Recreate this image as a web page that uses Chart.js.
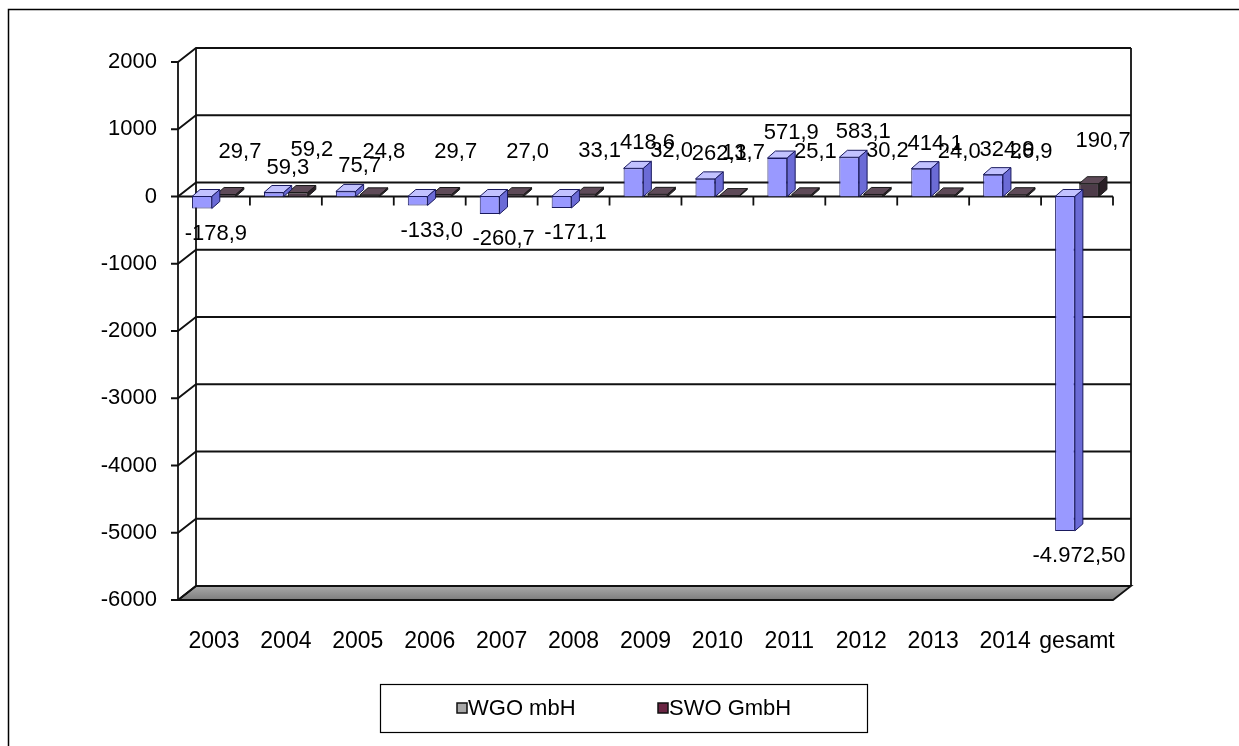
<!DOCTYPE html>
<html>
<head>
<meta charset="utf-8">
<script src="https://cdn.jsdelivr.net/npm/chart.js@4.4.0/dist/chart.umd.min.js"></script>
<style>
    html, body { margin: 0; padding: 0; background: #fff; }
</style>
</head>
<body>
<canvas id="ErgebnisChart" width="1239" height="746"></canvas>
<script>
//
// Daten
var jahre = ['2003', '2004', '2005', '2006', '2007', '2008', '2009', '2010', '2011', '2012', '2013', '2014', 'gesamt'];
var wgo_werte = [-178.9, 59.3, 75.7, -133.0, -260.7, -171.1, 418.6, 262.1, 571.9, 583.1, 414.1, 324.9, -4972.5];
var swo_werte = [29.7, 59.2, 24.8, 29.7, 27.0, 33.1, 32.0, 13.7, 25.1, 30.2, 24.0, 26.9, 190.7];
var wgo_stellen = [1, 1, 1, 1, 1, 1, 1, 1, 1, 1, 1, 1, 2];
var swo_stellen = [1, 1, 1, 1, 1, 1, 1, 1, 1, 1, 1, 1, 1];
var y_ticks = [-6000, -5000, -4000, -3000, -2000, -1000, 0, 1000, 2000];

var schrift = "'Liberation Sans', Arial, sans-serif";

//
// Zahl im deutschen Format
function fmt(v, d) {
    var s = Math.abs(v).toFixed(d).split('.');
    var ganz = s[0].replace(/\B(?=(\d{3})+(?!\d))/g, '.');
    return (v < 0 ? '-' : '') + ganz + (d ? ',' + s[1] : '');
}

//
// Waende, Boden, Achsen (3D-Optik)
var wand = {
    id: 'wand',
    beforeDatasetsDraw: function(chart) {
        var ctx = chart.ctx, a = chart.chartArea, ys = chart.scales.y, xs = chart.scales.x;
        var dx = 18, dy = -14;
        var oben = ys.getPixelForValue(ys.max), unten = ys.getPixelForValue(ys.min);
        ctx.save();
        ctx.strokeStyle = '#111';
        ctx.lineWidth = 1.8;

        // Boden
        var g = ctx.createLinearGradient(0, unten + dy, 0, unten);
        g.addColorStop(0, '#a9a9a9');
        g.addColorStop(1, '#7d7d7d');
        ctx.beginPath();
        ctx.moveTo(a.left, unten);
        ctx.lineTo(a.right, unten);
        ctx.lineTo(a.right + dx, unten + dy);
        ctx.lineTo(a.left + dx, unten + dy);
        ctx.closePath();
        ctx.fillStyle = g;
        ctx.fill();
        ctx.stroke();

        // Gitterlinien an der Rueckwand
        ys.ticks.forEach(function(t) {
            var py = ys.getPixelForValue(t.value);
            ctx.beginPath();
            ctx.moveTo(a.left - 7, py);
            ctx.lineTo(a.left, py);
            ctx.lineTo(a.left + dx, py + dy);
            ctx.lineTo(a.right + dx, py + dy);
            ctx.stroke();
        });

        // Kanten
        ctx.beginPath();
        ctx.moveTo(a.left, oben);
        ctx.lineTo(a.left, unten);
        ctx.moveTo(a.left + dx, oben + dy);
        ctx.lineTo(a.left + dx, unten + dy);
        ctx.moveTo(a.right + dx, oben + dy);
        ctx.lineTo(a.right + dx, unten + dy);
        ctx.stroke();

        // Nulllinie mit Teilstrichen
        var p0 = ys.getPixelForValue(0);
        ctx.beginPath();
        ctx.moveTo(a.left, p0);
        ctx.lineTo(a.right, p0);
        for (var i = 0; i < jahre.length; i++) {
            var px = xs.getPixelForValue(i + 0.5);
            ctx.moveTo(px, p0);
            ctx.lineTo(px, p0 + 9);
        }
        ctx.stroke();
        ctx.restore();
    }
};

//
// Saeulen mit Tiefe + Beschriftung
var flaechen = [
    { oben: '#c2c2ff', seite: '#6b6bd6', linie: '#1a1a5e', stellen: wgo_stellen, abstand: 12 },
    { oben: '#5e4a58', seite: '#2a1f26', linie: '#1a1a1a', stellen: swo_stellen, abstand: 30 }
];
var saeulen3d = {
    id: 'saeulen3d',
    afterDatasetDraw: function(chart, args) {
        var ctx = chart.ctx, f = flaechen[args.index];
        var ds = chart.data.datasets[args.index];
        var dx = 8, dy = -7;
        ctx.save();
        ctx.lineWidth = 1;
        ctx.strokeStyle = f.linie;
        args.meta.data.forEach(function(el, i) {
            var p = el.getProps(['x', 'y', 'base', 'width'], true);
            var l = p.x - p.width / 2, r = p.x + p.width / 2;
            var top = Math.min(p.y, p.base), bot = Math.max(p.y, p.base);
            // Deckflaeche
            ctx.beginPath();
            ctx.moveTo(l, top);
            ctx.lineTo(r, top);
            ctx.lineTo(r + dx, top + dy);
            ctx.lineTo(l + dx, top + dy);
            ctx.closePath();
            ctx.fillStyle = f.oben;
            ctx.fill();
            ctx.stroke();
            // Seitenflaeche
            ctx.beginPath();
            ctx.moveTo(r, top);
            ctx.lineTo(r + dx, top + dy);
            ctx.lineTo(r + dx, bot + dy);
            ctx.lineTo(r, bot);
            ctx.closePath();
            ctx.fillStyle = f.seite;
            ctx.fill();
            ctx.stroke();

            // Wert
            var v = ds.data[i];
            ctx.fillStyle = '#000';
            ctx.font = '22px ' + schrift;
            ctx.textAlign = 'center';
            if (v < 0) {
                ctx.textBaseline = 'top';
                ctx.fillText(fmt(v, f.stellen[i]), p.x + 14, bot + 14);
            } else {
                ctx.textBaseline = 'alphabetic';
                ctx.fillText(fmt(v, f.stellen[i]), p.x + 14, top + dy - f.abstand);
            }
        });
        ctx.restore();
    }
};

//
// Legende im Kasten + Rahmen
var legendeFarben = ['#a8a8a8', '#6a2543'];
var rahmen = {
    id: 'rahmen',
    afterDraw: function(chart) {
        var ctx = chart.ctx;
        ctx.save();
        ctx.strokeStyle = '#000';
        ctx.lineWidth = 1.5;
        ctx.beginPath();
        ctx.moveTo(8.5, 760);
        ctx.lineTo(8.5, 9.5);
        ctx.lineTo(1239, 9.5);
        ctx.stroke();

        // Legende
        ctx.lineWidth = 1.2;
        ctx.strokeRect(380.5, 684.5, 487, 48);
        ctx.font = '22px ' + schrift;
        ctx.textBaseline = 'middle';
        ctx.textAlign = 'left';
        var startX = [457, 658];
        chart.data.datasets.forEach(function(ds, i) {
            ctx.fillStyle = legendeFarben[i];
            ctx.fillRect(startX[i], 703, 10, 10);
            ctx.strokeStyle = '#111';
            ctx.lineWidth = 1.5;
            ctx.strokeRect(startX[i], 703, 10, 10);
            ctx.fillStyle = '#000';
            ctx.fillText(ds.label, startX[i] + 11, 709);
        });
        ctx.restore();
    }
};

var ctx = document.getElementById('ErgebnisChart').getContext('2d');
new Chart(ctx, {
    type: 'bar',
    data: {
        labels: jahre,
        datasets: [{
            label: 'WGO mbH',
            data: wgo_werte,
            backgroundColor: '#9999ff',
            borderColor: '#1a1a5e',
            borderWidth: 1
        }, {
            label: 'SWO GmbH',
            data: swo_werte,
            backgroundColor: '#4d3b49',
            borderColor: '#1a1a1a',
            borderWidth: 1
        }]
    },
    options: {
        responsive: false,
        animation: false,
        categoryPercentage: 0.67,
        barPercentage: 0.82,
        layout: {
            padding: { left: 8, top: 62, right: 126, bottom: 76 }
        },
        scales: {
            x: {
                grid: { display: false },
                border: { display: false },
                ticks: {
                    color: '#000',
                    padding: 20,
                    maxRotation: 0,
                    autoSkip: false,
                    font: { family: schrift, size: 23 }
                },
                afterFit: function(s) { s.height = 70; }
            },
            y: {
                min: y_ticks[0],
                max: y_ticks[y_ticks.length - 1],
                grid: { display: false },
                border: { display: false },
                afterBuildTicks: function(s) {
                    s.ticks = y_ticks.map(function(v) { return { value: v }; });
                },
                ticks: {
                    color: '#000',
                    padding: 13,
                    font: { family: schrift, size: 22 },
                    callback: function(v) { return String(v); }
                },
                afterFit: function(s) { s.width = 170; }
            }
        },
        plugins: {
            legend: { display: false },
            tooltip: { enabled: false }
        }
    },
    plugins: [wand, saeulen3d, rahmen]
});
</script>
</body>
</html>
